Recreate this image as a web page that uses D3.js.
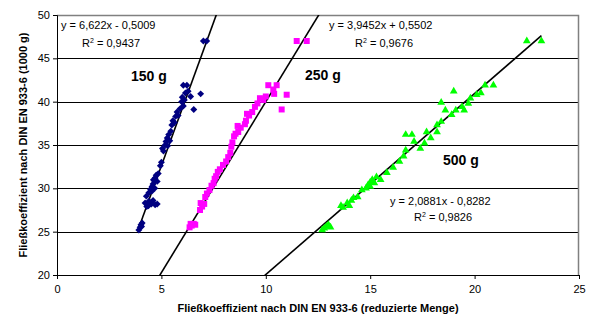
<!DOCTYPE html>
<html>
<head>
<meta charset="utf-8">
<script src="https://cdn.jsdelivr.net/npm/d3@7"></script>
<style>
  body { margin: 0; background: #fff; }
  text { font-family: "Liberation Sans", Arial, sans-serif; }
</style>
</head>
<body>
<svg id="chart"></svg>
<script>
// data: [x, y]
const pts150 = [
  [3.92,25.2],[3.98,25.5],[4.02,25.8],[4.08,26.0],[4.05,25.6],
  [4.22,28.3],[4.30,27.9],[4.38,28.0],[4.45,28.3],[4.52,28.2],[4.60,28.6],[4.70,28.1],[4.80,28.2],[4.40,28.5],
  [4.28,29.1],[4.40,29.5],[4.48,29.9],[4.55,30.2],[4.60,30.5],[4.65,30.9],[4.70,31.2],[4.75,31.5],[4.62,31.0],[4.55,29.7],[4.80,30.8],[4.85,31.7],[4.68,30.0],
  [4.95,32.6],[5.00,33.0],[5.10,34.3],[5.05,34.6],[5.18,35.0],[5.22,35.4],[5.28,35.8],[5.35,36.2],[5.40,35.5],[5.30,34.9],[5.45,36.6],
  [5.50,37.3],[5.55,37.8],[5.62,37.6],[5.68,38.3],[5.75,38.8],[5.80,38.4],[5.90,39.2],[5.97,40.0],[6.05,39.5],[6.00,40.5],[6.10,40.2],
  [6.55,39.1],[6.05,41.9],[6.22,41.9],[6.28,41.2],[6.15,41.0],[6.88,40.9],[6.40,40.6],
  [7.01,47.0],[7.17,47.0]
];
const pts250 = [
  [6.35,25.5],[6.45,25.7],[6.55,25.9],[6.62,25.8],[6.40,25.9],
  [6.85,27.5],[6.95,27.9],[6.88,28.3],[7.05,28.2],[7.10,29.0],[7.18,29.4],[7.30,29.8],[7.40,30.3],[7.50,30.6],[7.55,31.1],[7.62,31.4],[7.70,31.9],[7.80,32.2],[7.95,32.7],[8.10,33.1],[8.20,33.6],[8.30,34.1],[8.35,34.8],[8.40,35.3],[8.48,36.0],[8.55,36.3],[8.68,36.5],[8.65,37.2],[8.80,37.0],[9.00,37.4],[9.05,37.8],[9.10,38.6],[9.20,38.4],[9.35,38.8],[9.48,39.4],[9.60,39.8],[9.72,40.4],[9.88,40.2],[10.00,40.6],[10.12,41.9],[10.36,41.4],[10.52,41.9],[10.40,40.9],[11.00,40.8],[10.76,39.1],
  [11.48,47.0],[11.96,47.0]
];
const pts500 = [
  [12.7,25.2],[12.8,25.4],[12.9,25.6],[13.0,25.8],[13.1,25.5],
  [13.6,28.0],[13.7,27.8],[13.9,28.3],[14.0,28.0],[14.1,28.6],[14.2,28.9],[14.4,29.0],
  [14.6,29.8],[14.8,30.0],[14.9,30.4],[15.0,30.7],[15.1,31.0],[15.2,30.6],[15.3,31.3],[15.5,31.0],[15.0,30.2],
  [15.8,31.8],[16.1,32.4],[16.4,33.1],[16.6,33.7],[16.7,34.4],[16.7,36.2],[17.0,36.2],[17.1,35.4],[17.4,34.6],[17.6,35.2],[17.7,36.5],[17.9,35.8],[18.2,36.5],[18.2,37.3],[18.4,37.7],[18.6,39.0],[18.4,39.9],[18.9,38.5],[19.0,41.2],[19.1,39.0],[19.5,39.0],[19.4,39.4],[19.7,39.8],[19.8,40.4],[20.1,40.8],[20.3,41.0],[20.5,41.9],[20.9,41.9],
  [22.5,47.0],[23.2,47.0]
];

// trendlines: slope, intercept, x from, x to
const trends = [
  { slope: 6.622,  icpt: -0.5009, from: 3.92, to: 8,    eq: "y = 6,622x - 0,5009",  r2: "0,9437" },
  { slope: 3.9452, icpt: 0.5502,  from: 4.5,  to: 13,   eq: "y = 3,9452x + 0,5502", r2: "0,9676" },
  { slope: 2.0881, icpt: -0.8282, from: 9.5,  to: 23.2, eq: "y = 2,0881x - 0,8282", r2: "0,9826" }
];

const xTicks = [0, 5, 10, 15, 20, 25];
const yTicks = [20, 25, 30, 35, 40, 45, 50];
const seriesNames = ["150 g", "250 g", "500 g"];
const xTitle = "Fließkoeffizient nach DIN EN 933-6 (reduzierte Menge)";
const yTitle = "Fließkoeffizient nach DIN EN 933-6 (1000 g)";

const W = 593, H = 320;
const margin = { top: 15, right: 14, bottom: 45, left: 57 };
const width = W - margin.left - margin.right;
const height = H - margin.top - margin.bottom;

const svg = d3.select("#chart").attr("width", W).attr("height", H);
const chart = svg.append("g").attr("transform", `translate(${margin.left},${margin.top})`);

const x = d3.scaleLinear().domain([0, 25]).range([0, width]);
const y = d3.scaleLinear().domain([20, 50]).range([height, 0]);

svg.append("defs").append("clipPath").attr("id", "plotclip")
  .append("rect").attr("width", width).attr("height", height);

// gridlines
chart.selectAll(".grid").data(yTicks.slice(1, -1)).join("line")
  .attr("x1", 0).attr("x2", width)
  .attr("y1", d => Math.round(y(d)) + 0.5).attr("y2", d => Math.round(y(d)) + 0.5)
  .attr("stroke", "#000").attr("stroke-width", 1);

// plot border (top, right)
chart.append("path")
  .attr("d", `M0,0.5H${width - 0.5}V${height}`)
  .attr("fill", "none").attr("stroke", "#808080").attr("stroke-width", 1.5);

// axes
const xAxis = d3.axisBottom(x).tickValues(xTicks).tickSize(4).tickPadding(6).tickFormat(d3.format("d"));
const yAxis = d3.axisLeft(y).tickValues(yTicks).tickSize(4).tickPadding(3).tickFormat(d3.format("d"));

const xAxisG = chart.append("g").attr("transform", `translate(0,${height})`).call(xAxis);
const yAxisG = chart.append("g").call(yAxis);
[xAxisG, yAxisG].forEach(g => {
  g.select(".domain").attr("stroke", "#000");
  g.selectAll(".tick line").attr("stroke", "#000");
  g.selectAll("text").attr("font-size", 11).attr("fill", "#000")
    .style("font-family", "'Liberation Sans', Arial, sans-serif");
});

// trendlines
const plot = chart.append("g").attr("clip-path", "url(#plotclip)");
plot.selectAll(".trend").data(trends).join("line")
  .attr("x1", d => x(d.from)).attr("y1", d => y(d.slope * d.from + d.icpt))
  .attr("x2", d => x(d.to)).attr("y2", d => y(d.slope * d.to + d.icpt))
  .attr("stroke", "#000").attr("stroke-width", 1.6);

// markers
const diamond = d3.symbol().type(d3.symbolSquare).size(24)();
const square = d3.symbol().type(d3.symbolSquare).size(36)();
const triangle = d3.symbol().type(d3.symbolTriangle).size(26)();

plot.selectAll(".p150").data(pts150).join("path")
  .attr("d", diamond)
  .attr("transform", d => `translate(${x(d[0])},${y(d[1])}) rotate(45)`)
  .attr("fill", "#000080");
plot.selectAll(".p250").data(pts250).join("path")
  .attr("d", square)
  .attr("transform", d => `translate(${x(d[0])},${y(d[1])})`)
  .attr("fill", "#ff00ff");
plot.selectAll(".p500").data(pts500).join("path")
  .attr("d", triangle)
  .attr("transform", d => `translate(${x(d[0])},${y(d[1])})`)
  .attr("fill", "#00ff00");

// equations
const eqPos = [
  { x: 4, y: 14, r: 25, ry: 32 },
  { x: 272, y: 14, r: 298, ry: 32 },
  { x: 333, y: 190, r: 357, ry: 206 }
];
trends.forEach((t, i) => {
  const p = eqPos[i];
  chart.append("text").attr("x", p.x).attr("y", p.y).attr("font-size", 11).attr("fill", "#000").text(t.eq);
  const r = chart.append("text").attr("x", p.r).attr("y", p.ry).attr("font-size", 11).attr("fill", "#000");
  r.append("tspan").text("R");
  r.append("tspan").attr("font-size", 7).attr("dy", -4).text("2");
  r.append("tspan").attr("dy", 4).text(" = " + t.r2);
});

// series labels
const namePos = [[74, 66], [248, 65], [386, 150]];
seriesNames.forEach((n, i) => {
  chart.append("text").attr("x", namePos[i][0]).attr("y", namePos[i][1])
    .attr("font-size", 14).attr("font-weight", "bold").attr("fill", "#000").text(n);
});

// axis titles
svg.append("text")
  .attr("x", margin.left + width / 2).attr("y", 312)
  .attr("text-anchor", "middle").attr("font-size", 11).attr("font-weight", "bold")
  .text(xTitle);
svg.append("text")
  .attr("transform", `translate(27,${margin.top + height / 2}) rotate(-90)`)
  .attr("text-anchor", "middle").attr("font-size", 11).attr("font-weight", "bold")
  .text(yTitle);
</script>
</body>
</html>
